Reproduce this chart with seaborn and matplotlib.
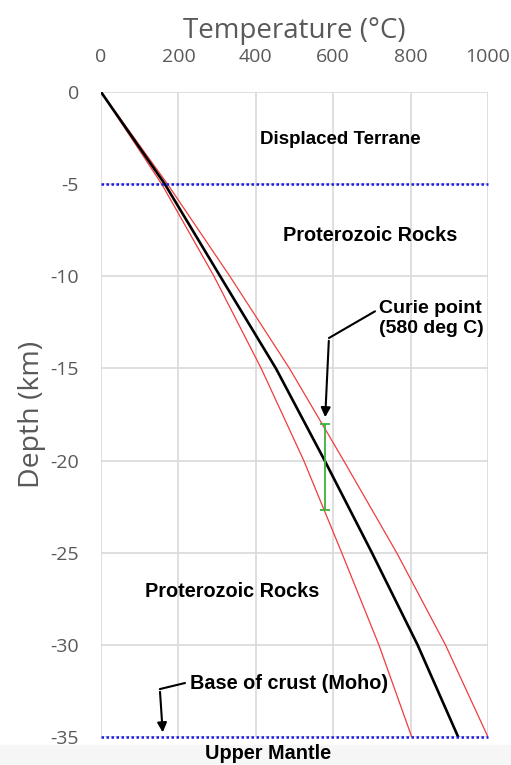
import matplotlib
matplotlib.use('Agg')
import matplotlib.pyplot as plt
import seaborn as sns
import pandas as pd

# depth (km) and temperatures (deg C)
depth = [0, -5, -10, -15, -20, -25, -30, -35]
temp_mid = [0, 165, 308, 452, 578, 700, 818, 923]
temp_hot = [0, 172, 333, 487, 627, 764, 890, 1000]
temp_cold = [0, 157, 292, 414, 524, 622, 718, 803]

curie_temp = 580
curie_top = -18.0
curie_bottom = -22.7

boundaries = [-5, -35]

x_ticks = [0, 200, 400, 600, 800, 1000]
y_ticks = [0, -5, -10, -15, -20, -25, -30, -35]

sns.set_style('white')
plt.rcParams['font.family'] = ['Open Sans', 'DejaVu Sans']
plt.rcParams['axes.unicode_minus'] = False

df = pd.DataFrame({'depth': depth, 'mid': temp_mid, 'hot': temp_hot, 'cold': temp_cold})

fig = plt.figure(figsize=(5.11, 7.65), dpi=100)
ax = fig.add_axes([101 / 511, 28 / 765, 387 / 511, 645 / 765])

# light band at the very bottom of the picture
fig.patches.append(plt.Rectangle((0, 0), 1, 20 / 765, transform=fig.transFigure,
                                 color='#f6f6f6', zorder=-10))

ax.set_xlim(0, 1000)
ax.set_ylim(-35, 0)
ax.set_xticks(x_ticks)
ax.set_yticks(y_ticks)
ax.grid(True, color='#d9d9d9', linewidth=1.2)
for s in ax.spines.values():
    s.set_visible(False)

sns.lineplot(data=df, x='cold', y='depth', sort=False, estimator=None, ax=ax,
             color='#f03c3c', linewidth=0.9, zorder=3)
sns.lineplot(data=df, x='hot', y='depth', sort=False, estimator=None, ax=ax,
             color='#f03c3c', linewidth=0.9, zorder=3)
sns.lineplot(data=df, x='mid', y='depth', sort=False, estimator=None, ax=ax,
             color='black', linewidth=1.9, zorder=4)

for b in boundaries:
    ax.axhline(b, color='#1a1ae6', linewidth=1.8, linestyle=(0, (1, 1)), zorder=5, clip_on=False)

mid = (curie_top + curie_bottom) / 2
ax.errorbar([curie_temp], [mid], yerr=[(curie_top - curie_bottom) / 2], color='#3cb33c',
            linewidth=1.3, capsize=3.5, capthick=1.3, zorder=6)

ax.tick_params(axis='both', length=0, labelsize=14, labelcolor='#595959')
ax.xaxis.tick_top()
ax.tick_params(axis='x', pad=19)
ax.tick_params(axis='y', pad=16)
ax.xaxis.set_label_position('top')
ax.set_xlabel('Temperature (°C)', fontsize=20, color='#595959', labelpad=7)
ax.set_ylabel('Depth (km)', fontsize=20.5, color='#595959', labelpad=3)

bold = dict(fontweight='bold', family=['Liberation Sans', 'DejaVu Sans'], color='black')
ax.text(618, -2.6, 'Displaced Terrane', ha='center', va='center', fontsize=13.5, **bold)
ax.text(695, -7.76, 'Proterozoic Rocks', ha='center', va='center', fontsize=14.3, **bold)
ax.text(339, -27.1, 'Proterozoic Rocks', ha='center', va='center', fontsize=14.3, **bold)
ax.text(718, -12.3, 'Curie point\n(580 deg C)', ha='left', va='center', linespacing=1.2,
        fontsize=14, **bold)
ax.text(230, -32.07, 'Base of crust (Moho)', ha='left', va='center', fontsize=14.3, **bold)
ax.text(432, -35.87, 'Upper Mantle', ha='center', va='center', clip_on=False, fontsize=14.3, **bold)

# arrows with an elbow
ax.plot([708, 589], [-11.9, -13.35], color='black', linewidth=1.5, zorder=7)
ax.annotate('', xy=(579, -17.8), xytext=(589, -13.35),
            arrowprops=dict(arrowstyle='-|>', color='black', lw=1.5, mutation_scale=14), zorder=7)
ax.plot([217, 152], [-32.07, -32.4], color='black', linewidth=1.5, zorder=7)
ax.annotate('', xy=(160, -34.9), xytext=(152, -32.4),
            arrowprops=dict(arrowstyle='-|>', color='black', lw=1.5, mutation_scale=14), zorder=7)

plt.savefig('out.png', dpi=100)
